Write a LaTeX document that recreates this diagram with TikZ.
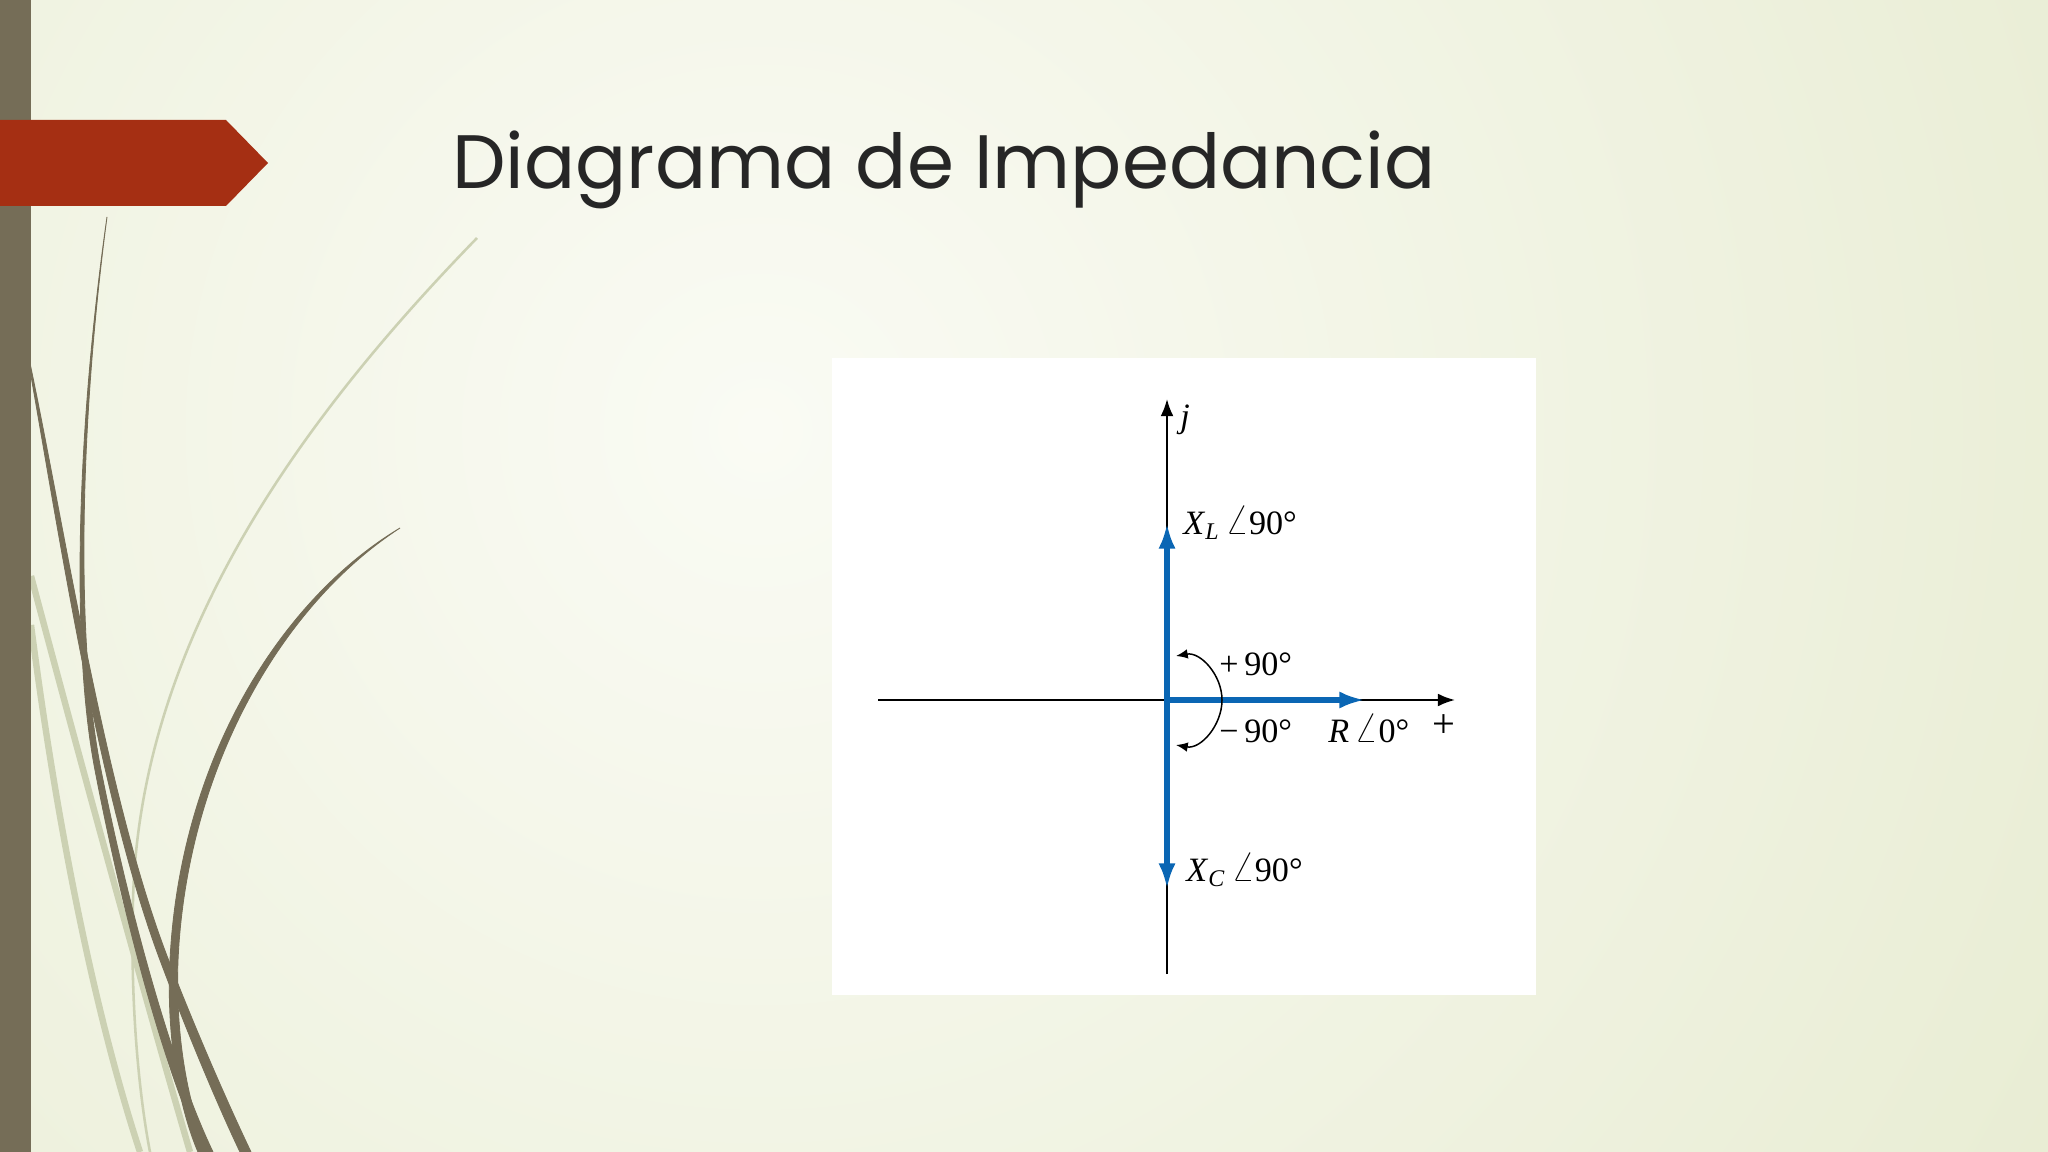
\documentclass[tikz,border=0pt]{standalone}
\usepackage{fontspec}
\setmainfont{Liberation Serif}
\newfontfamily\titlefont{Poppins}
\usetikzlibrary{positioning, arrows.meta}

\definecolor{bgin}{HTML}{FAFBF4}
\definecolor{bgout}{HTML}{DFE5C2}
\definecolor{barcol}{HTML}{756D57}
\definecolor{bannercol}{HTML}{A52F13}
\definecolor{leafcol}{HTML}{CCD1B3}
\definecolor{vecblue}{HTML}{0A66B4}
\definecolor{titlegray}{HTML}{262626}

\newcommand{\ang}{\scalebox{1.3}{$\angle$}}

\tikzset{
	axis/.style={line width=0.95pt, -{Latex[length=8pt,width=6pt]}},
	vec/.style={vecblue, line width=3.2pt, -{Latex[length=12pt,width=8pt]}},
	turn/.style={line width=0.7pt, {Latex[length=5.5pt,width=4.5pt]}-{Latex[length=5.5pt,width=4.5pt]}},
	lbl/.style={inner sep=0pt, anchor=base west, font=\fontsize{16}{19}\selectfont},
	stem/.style={fill=barcol, draw=barcol, line width=0.4pt},
	faint/.style={leafcol, line width=3pt},
}

\begin{document}
\begin{tikzpicture}[x=0.46875pt, y=-0.46875pt]
	\useasboundingbox (0,0) rectangle (2048,1152);
	
	\begin{scope}
		\clip (0,0) rectangle (2048,1152);
		\shade[inner color=bgin, outer color=bgout] (760,430) circle (2300);
		\draw[faint, line width=1.2pt] (477,238) .. controls (300,420) and (140,640) .. (133,900) .. controls (130,1010) and (140,1100) .. (150,1152);
		\draw[faint] (31,576) .. controls (80,760) and (140,980) .. (190,1152);
		\draw[faint] (31,625) .. controls (60,850) and (100,1030) .. (140,1152);
		\path[stem] (107,217) .. controls (78,420) and (70,640) .. (95,770) .. controls (120,900) and (160,1060) .. (203,1152)
			-- (213,1152) .. controls (169,1060) and (127,900) .. (101,770) .. controls (75,640) and (80,420) .. (107,217) -- cycle;
		\path[stem] (31,376) .. controls (60,540) and (100,800) .. (160,960) .. controls (190,1040) and (220,1110) .. (240,1152)
			-- (251,1152) .. controls (230,1108) and (198,1036) .. (167,956) .. controls (106,796) and (66,536) .. (31,368) -- cycle;
		\path[stem] (400,528) .. controls (280,600) and (180,760) .. (170,960) .. controls (166,1040) and (180,1110) .. (198,1152)
			-- (208,1152) .. controls (189,1108) and (175,1040) .. (178,960) .. controls (187,765) and (284,603) .. (400,528) -- cycle;
	\end{scope}
	
	\fill[barcol] (0,0) rectangle (31,1152);
	\fill[bannercol] (0,120) -- (226,120) -- (268,163) -- (226,206) -- (0,206) -- cycle;
	\node[anchor=base west, inner sep=0pt, text=titlegray, font=\titlefont\fontsize{35.5}{40}\selectfont] (title) at (452,189) {Diagrama de Impedancia};
	
	\fill[white] (832,358) rectangle (1536,995);
	
	\coordinate (o) at (1167,700);
	\coordinate (ytop) at (1167,399);
	\coordinate (ybot) at (1167,974);
	\coordinate (xleft) at (878,700);
	\coordinate (xright) at (1455,700);
	\coordinate (xl) at (1167,523);
	\coordinate (xc) at (1167,889);
	\coordinate (r) at (1365,700);
	\coordinate (a1) at (1176,656);
	\coordinate (amid) at (1222,700);
	\coordinate (a2) at (1176,745);
	
	\draw[axis] (xleft) -- (xright);
	\draw[axis] (ybot) -- (ytop);
	\draw[vec] (o) -- (xl);
	\draw[vec] (o) -- (xc);
	\draw[vec] (o) -- (r);
	\draw[turn] (a1) to[out=10,in=90] (amid) to[out=-90,in=-10] (a2);
	
	\node[lbl] (jlbl) at ([shift={(13,28)}]ytop) {\textit{j}};
	\node[lbl] (xllbl) at ([shift={(16,11)}]xl) {\textit{X}\textsubscript{\textit{L}}\,\ang90°};
	\node[lbl] (xclbl) at ([shift={(19,-8)}]xc) {\textit{X}\textsubscript{\textit{C}}\,\ang90°};
	\node[lbl] (rlbl) at ([shift={(-37,42)}]r) {\textit{R}\,\ang0°};
	\node[lbl, anchor=center, font=\fontsize{19}{21}\selectfont] (plus) at ([shift={(-11,26)}]xright) {+};
	\node[lbl] (uplbl) at ([shift={(-3,-25)}]amid) {+\,90°};
	\node[lbl] (downlbl) at ([shift={(-3,42)}]amid) {−\,90°};
\end{tikzpicture}
\end{document}
